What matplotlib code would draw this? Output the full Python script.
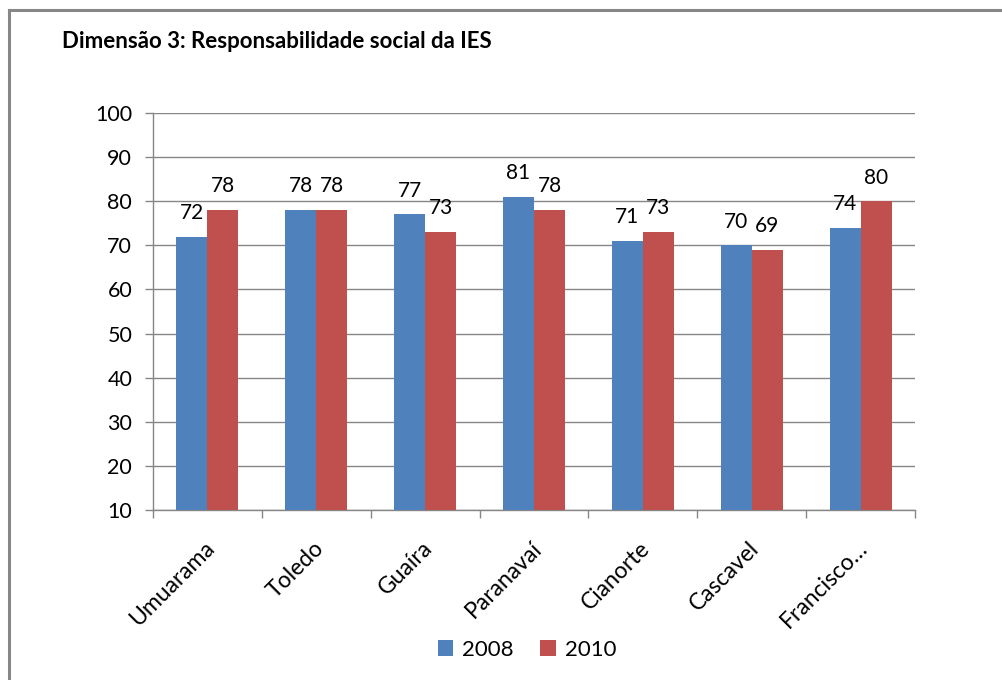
import numpy as np
import matplotlib.pyplot as plt
import matplotlib.transforms as mtransforms
from matplotlib.lines import Line2D

# === Data ===
categories = ["Umuarama", "Toledo", "Guaíra", "Paranavaí", "Cianorte", "Cascavel", "Francisco…"]
series_names = ["2008", "2010"]
values_2008 = [72, 78, 77, 81, 71, 70, 74]
values_2010 = [78, 78, 73, 78, 73, 69, 80]
y_ticks = [10, 20, 30, 40, 50, 60, 70, 80, 90, 100]

plt.rcParams['font.family'] = ['Lato', 'DejaVu Sans']

blue = '#4F81BD'
red = '#C0504D'
grid_gray = '#868686'

fig = plt.figure(figsize=(10.02, 6.8), dpi=100)
ax = fig.add_axes([153 / 1002, 1 - 510 / 680, (915 - 153) / 1002, (510 - 113) / 680])

x = np.arange(len(categories))
w = 0.285
b1 = ax.bar(x - w / 2, np.array(values_2008) - 10, bottom=10, width=w, color=blue, label=series_names[0], zorder=3)
b2 = ax.bar(x + w / 2, np.array(values_2010) - 10, bottom=10, width=w, color=red, label=series_names[1], zorder=3)

for bars, vals in ((b1, values_2008), (b2, values_2010)):
    for rect, v in zip(bars, vals):
        ax.annotate(str(v), (rect.get_x() + rect.get_width() / 2, v),
                    xytext=(0, 17), textcoords='offset points',
                    ha='center', va='center', fontsize=15, color='black')

ax.set_xlim(-0.5, len(categories) - 0.5)
ax.set_ylim(10, 100)
ax.set_yticks(y_ticks)
ax.tick_params(axis='y', length=6, width=1, color=grid_gray, labelsize=15.5, pad=9)
ax.yaxis.grid(True, color=grid_gray, linewidth=1, zorder=0)

# category labels at centers, tick marks at boundaries
ax.set_xticks(x)
ax.set_xticklabels(categories, rotation=45, ha='right', va='center', rotation_mode='anchor', fontsize=16.5)
ax.set_xticks(np.arange(len(categories) + 1) - 0.5, minor=True)
ax.tick_params(axis='x', which='major', length=0, pad=25)
ax.tick_params(axis='x', which='minor', length=6, width=1, color=grid_gray)
shift = mtransforms.ScaledTranslation(4 / 100, 0, fig.dpi_scale_trans)
for lbl in ax.get_xticklabels():
    lbl.set_transform(lbl.get_transform() + shift)

for s in ('top', 'right'):
    ax.spines[s].set_visible(False)
for s in ('left', 'bottom'):
    ax.spines[s].set_color(grid_gray)
    ax.spines[s].set_linewidth(1)

fig.text(62 / 1002, 1 - 42 / 680, "Dimensão 3: Responsabilidade social da IES",
         fontsize=16, fontweight='bold', ha='left', va='center')

fig.legend(handles=[b1, b2], labels=series_names, loc='center', bbox_to_anchor=(527 / 1002, 1 - 650 / 680),
           ncol=2, frameon=False, fontsize=16, handlelength=0.7, handleheight=0.7,
           handletextpad=0.4, columnspacing=1.2)

# outer chart border (only top and left are inside the picture)
fig.add_artist(Line2D([8.5 / 1002, 1.0], [1 - 9.5 / 680, 1 - 9.5 / 680], color='#878787', linewidth=2.2,
                      transform=fig.transFigure))
fig.add_artist(Line2D([8.5 / 1002, 8.5 / 1002], [0.0, 1 - 9.5 / 680], color='#878787', linewidth=2.2,
                      transform=fig.transFigure))

fig.savefig("out.png", dpi=100, facecolor='white')
